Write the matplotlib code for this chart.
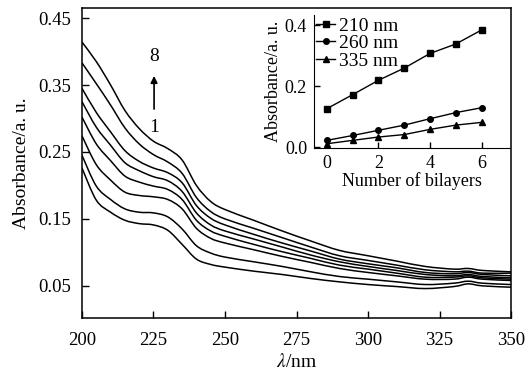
import numpy as np
import matplotlib
matplotlib.use("Agg")
import matplotlib.pyplot as plt
from matplotlib.path import Path
from matplotlib.patches import PathPatch

plt.rcParams['font.family'] = ['Liberation Serif', 'DejaVu Serif']
plt.rcParams['mathtext.fontset'] = 'stix'

# UV-vis spectra, curves 1..8
wavelength = [200, 205, 210, 215, 220, 225, 230, 235, 240, 245, 250,
              260, 270, 280, 290, 300, 310, 320, 330, 335, 340, 350]
spectra = [
    [.226, .178, .160, .148, .143, .141, .133, .112, .090, .082, .078,
     .072, .067, .061, .056, .052, .049, .046, .049, .053, .050, .048],
    [.245, .199, .179, .165, .160, .159, .153, .135, .110, .099, .093,
     .086, .079, .071, .064, .060, .056, .052, .054, .057, .054, .052],
    [.274, .231, .208, .190, .185, .183, .179, .165, .136, .121, .114,
     .104, .094, .085, .076, .070, .065, .060, .060, .063, .060, .058],
    [.302, .262, .237, .214, .205, .199, .194, .179, .148, .132, .124,
     .112, .101, .091, .081, .075, .069, .063, .063, .065, .062, .060],
    [.325, .287, .260, .234, .222, .213, .207, .191, .159, .141, .132,
     .120, .108, .096, .086, .079, .073, .067, .065, .067, .064, .062],
    [.345, .309, .280, .252, .236, .226, .219, .204, .170, .151, .141,
     .127, .114, .102, .090, .083, .077, .070, .068, .070, .067, .065],
    [.383, .352, .320, .286, .262, .246, .235, .218, .182, .161, .150,
     .136, .122, .108, .095, .088, .081, .074, .071, .072, .069, .069],
    [.414, .385, .350, .312, .285, .266, .255, .238, .200, .176, .164,
     .148, .132, .117, .103, .095, .087, .079, .075, .076, .073, .071],
]

# inset: absorbance vs number of bilayers
bilayers = [0, 1, 2, 3, 4, 5, 6]
abs_210 = [0.126, 0.172, 0.219, 0.259, 0.307, 0.338, 0.384]
abs_260 = [0.022, 0.038, 0.055, 0.072, 0.093, 0.113, 0.129]
abs_335 = [0.011, 0.022, 0.033, 0.041, 0.058, 0.072, 0.081]


def smooth_path(x, y):
    # bezier through the read points (rendering only, points unchanged)
    p = np.column_stack([x, y]).astype(float)
    n = len(p)
    verts = [p[0]]
    codes = [Path.MOVETO]
    for i in range(n - 1):
        p0 = p[i - 1] if i > 0 else p[i]
        p3 = p[i + 2] if i + 2 < n else p[i + 1]
        c1 = p[i] + (p[i + 1] - p0) / 6.0
        c2 = p[i + 1] - (p3 - p[i]) / 6.0
        verts += [c1, c2, p[i + 1]]
        codes += [Path.CURVE4] * 3
    return Path(verts, codes)


fig = plt.figure(figsize=(5.3, 3.74), dpi=100)
ax = fig.add_axes([0.1547, 0.1497, 0.8095, 0.8289])

for s in spectra:
    ax.add_patch(PathPatch(smooth_path(wavelength, s), fill=False,
                           edgecolor='black', lw=1.1))

ax.set_xlim(200, 350)
ax.set_ylim(0.002, 0.465)
ax.set_xticks([200, 225, 250, 275, 300, 325, 350])
ax.set_yticks([0.05, 0.15, 0.25, 0.35, 0.45])
ax.set_yticklabels(['0.05', '0.15', '0.25', '0.35', '0.45'])
ax.tick_params(direction='in', length=5, width=1, labelsize=13.5, pad=8)
ax.tick_params(axis='x', pad=10)
for sp in ax.spines.values():
    sp.set_linewidth(1.1)
ax.set_xlabel(r'$\lambda$/nm', fontsize=14, labelpad=3)
ax.set_ylabel('Absorbance/a. u.', fontsize=14, labelpad=6)

# arrow 1 -> 8
ax.annotate('', xy=(0.168, 0.79), xytext=(0.168, 0.665), xycoords='axes fraction',
            arrowprops=dict(arrowstyle='-|>', color='black', lw=1.2, mutation_scale=10))
ax.text(0.168, 0.842, '8', transform=ax.transAxes, ha='center', va='center', fontsize=14)
ax.text(0.168, 0.616, '1', transform=ax.transAxes, ha='center', va='center', fontsize=14)

# inset
ins = fig.add_axes([0.5925, 0.6043, 0.3698, 0.3556])
ins.plot(bilayers, abs_210, '-s', color='black', lw=1, ms=4, label='210 nm')
ins.plot(bilayers, abs_260, '-o', color='black', lw=1, ms=4, label='260 nm')
ins.plot(bilayers, abs_335, '-^', color='black', lw=1, ms=4, label='335 nm')
ins.set_xlim(-0.5, 7.1)
ins.set_ylim(-0.003, 0.433)
ins.set_xticks([0, 2, 4, 6])
ins.set_yticks([0.0, 0.2, 0.4])
ins.set_yticklabels(['0.0', '0.2', '0.4'])
ins.spines['top'].set_visible(False)
ins.spines['right'].set_visible(False)
ins.tick_params(direction='in', length=4, width=1, labelsize=13, pad=5)
ins.set_xlabel('Number of bilayers', fontsize=13, labelpad=0)
ins.set_ylabel('Absorbance/a. u.', fontsize=13, labelpad=2)
ins.legend(loc='upper left', frameon=False, fontsize=14, handlelength=1.0,
           handletextpad=0.2, labelspacing=0.0, borderaxespad=0.1, borderpad=0.0)

fig.savefig('out.png', dpi=100)
